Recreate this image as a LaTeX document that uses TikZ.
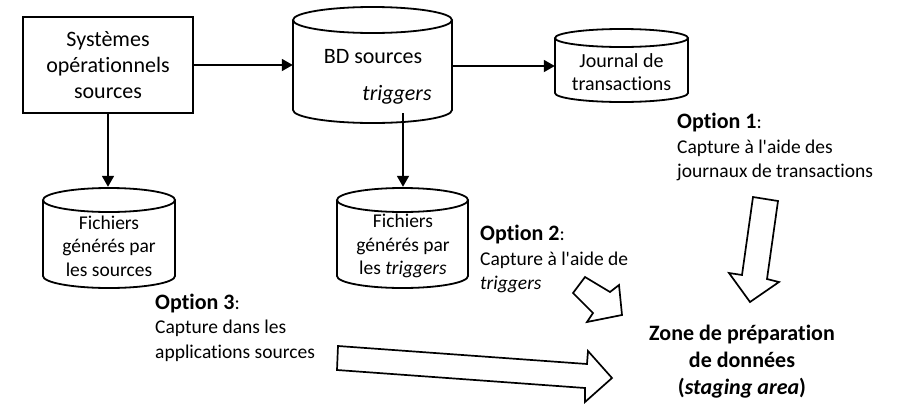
\documentclass[tikz,border=0pt]{standalone}
\usepackage{fontspec}
\setmainfont{Carlito}[Ligatures=NoCommon]
\usetikzlibrary{arrows.meta}
\newcommand\mycyl[5]{% cx, rx, ytop, ybot, ry
  \draw[outline] ({#1-#2},#3) -- ({#1-#2},#4)
    .. controls ({#1-#2},{#4+0.5523*#5}) and ({#1-0.5523*#2},{#4+#5}) .. (#1,{#4+#5})
    .. controls ({#1+0.5523*#2},{#4+#5}) and ({#1+#2},{#4+0.5523*#5}) .. ({#1+#2},#4)
    -- ({#1+#2},#3);
  \draw[outline] (#1,#3) ellipse[x radius=#2, y radius=#5];
}
\begin{document}
\begin{tikzpicture}[x=1pt,y=-1pt,
  outline/.style={line width=1.8pt},
  conn/.style={line width=1.8pt,-{Triangle[length=11pt,width=12pt]}},
  blk/.style={line width=1.7pt, line join=miter, fill=white},
  anchorbox/.style={draw=none, inner sep=0pt},
  biglbl/.style={inner sep=0pt, align=center, font=\fontsize{22}{26}\selectfont},
  lbl/.style={inner sep=0pt, align=center, font=\fontsize{19.5}{23.5}\selectfont},
  optlbl/.style={inner sep=0pt, align=left, anchor=west, font=\fontsize{19.5}{24.5}\selectfont},
  zonelbl/.style={inner sep=0pt, align=center, font=\fontsize{22}{27}\selectfont\bfseries}]
\useasboundingbox (0,0) rectangle (903,413);

% source systems box
\node[draw, outline, minimum width=170pt, minimum height=96pt, inner sep=0pt,
      biglbl] (sys) at (108,65) {Systèmes\\opérationnels\\sources};

% BD sources cylinder
\mycyl{372.5}{79.5}{20}{110}{13}
\node[anchorbox, minimum width=159pt, minimum height=116pt] (bd) at (372.5,65) {};
\node[biglbl] (bdt) at (373,57) {BD sources};
\node[biglbl, font=\fontsize{22}{26}\selectfont\itshape] (bdtr) at (397,95) {triggers};

% Journal cylinder
\mycyl{621.5}{66.5}{38}{93}{9}
\node[anchorbox, minimum width=133pt, minimum height=73pt] (jr) at (621.5,65.5) {};
\node[lbl, font=\fontsize{20}{23}\selectfont] (jrt) at (621.5,72) {Journal de\\transactions};

% Fichiers sources cylinder
\mycyl{109}{66}{200}{276}{12}
\node[anchorbox, minimum width=132pt, minimum height=101pt] (fs) at (109,237.5) {};
\node[lbl] (fst) at (109,246) {Fichiers\\générés par\\les sources};

% Fichiers triggers cylinder
\mycyl{402.5}{65.5}{200}{276}{12}
\node[anchorbox, minimum width=131pt, minimum height=101pt] (ft) at (402.5,237.5) {};
\node[lbl] (ftt) at (403,246) {Fichiers\\générés par\\les \textit{triggers}};

% connectors
\coordinate (bdout) at (403,113);
\draw[conn] (sys.east) -- (sys.east -| bd.west);
\draw[conn] (bd.east |- jr.west) ++(0,0.5) coordinate (bdj) -- (bdj -| jr.west);
\draw[conn] (sys.south) -- (sys.south |- fs.north);
\draw[conn] (bdout) -- (bdout |- ft.north);

% options
\node[optlbl] (o1) at (677,147) {{\fontsize{22}{26}\selectfont\bfseries Option 1}:\\Capture à l\textquotesingle aide des\\journaux de transactions};
\node[optlbl] (o2) at (480,259) {{\fontsize{22}{26}\selectfont\bfseries Option 2}:\\Capture à l\textquotesingle aide de\\\textit{triggers}};
\node[optlbl] (o3) at (155,327.5) {{\fontsize{22}{26}\selectfont\bfseries Option 3}:\\Capture dans les\\applications sources};

% staging area
\node[zonelbl] (zone) at (742,362) {Zone de préparation\\de données\\(\textit{staging area})};

% block arrows
\draw[blk] (753,197) -- (778,201) -- (767,279) -- (779,282) -- (750,302) -- (729,273) -- (742,275) -- cycle;
\draw[blk] (573,293) -- (585,277) -- (610,292) -- (619,285) -- (622,315) -- (587,322) -- (593,313) -- cycle;
\draw[blk] (338,346) -- (587,364) -- (588,351) -- (612,378) -- (585,402) -- (585,388) -- (337,370) -- cycle;
\end{tikzpicture}
\end{document}
